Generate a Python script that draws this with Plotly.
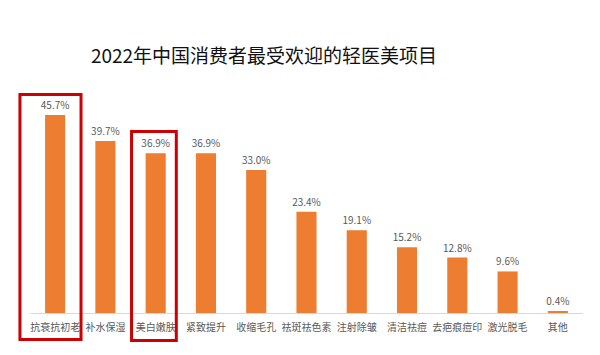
import plotly.graph_objects as go

categories = ["抗衰抗初老", "补水保湿", "美白嫩肤", "紧致提升", "收缩毛孔", "祛斑祛色素",
              "注射除皱", "清洁祛痘", "去疤痕痘印", "激光脱毛", "其他"]
values = [45.7, 39.7, 36.9, 36.9, 33.0, 23.4, 19.1, 15.2, 12.8, 9.6, 0.4]
labels = [f"{v:.1f}%" for v in values]
highlighted = ["抗衰抗初老", "美白嫩肤"]

FONT = "Noto Sans CJK SC"
N = len(categories)

fig = go.Figure()
fig.add_trace(go.Bar(
    x=categories, y=values,
    marker=dict(color="#ED7D31", line=dict(width=0)),
    text=labels, textposition="outside", cliponaxis=False, constraintext="none",
    textfont=dict(size=10, color="#595959", family=FONT),
    width=0.4, hoverinfo="skip",
))

idx = {c: i for i, c in enumerate(categories)}


def cat_to_paper(i, off):
    return (i + 0.5 + off) / N


# highlight boxes (paper refs so they are not clipped)
i0 = idx[highlighted[0]]
fig.add_shape(type="rect", xref="paper", yref="paper",
              x0=cat_to_paper(i0, -0.70), x1=cat_to_paper(i0, 0.515),
              y0=-0.114, y1=0.938, line=dict(color="#CC0000", width=3))
i1 = idx[highlighted[1]]
fig.add_shape(type="rect", xref="paper", yref="paper",
              x0=cat_to_paper(i1, -0.48), x1=cat_to_paper(i1, 0.41),
              y0=-0.118, y1=0.779, line=dict(color="#CC0000", width=3))

fig.update_layout(
    width=600, height=355,
    margin=dict(l=30, r=17, t=80, b=42, autoexpand=False),
    paper_bgcolor="white", plot_bgcolor="white",
    showlegend=False,
    title=dict(text="2022年中国消费者最受欢迎的轻医美项目", x=0.44, xanchor="center",
               y=1 - 56 / 355, yanchor="middle",
               font=dict(size=19, color="#111111", family=FONT)),
    xaxis=dict(showline=True, linecolor="#D9D9D9", linewidth=1, ticks="",
               range=[-0.5, N - 0.5], fixedrange=True,
               automargin=False, ticklabelstandoff=5,
               tickfont=dict(size=10, color="#595959", family=FONT), showgrid=False),
    yaxis=dict(range=[0, 53.8], visible=False, showgrid=False, automargin=False,
               fixedrange=True),
)

fig.write_html("out.html",
               config={"displayModeBar": False},
               post_script="document.body.style.margin='0';document.body.style.overflow='hidden';")
